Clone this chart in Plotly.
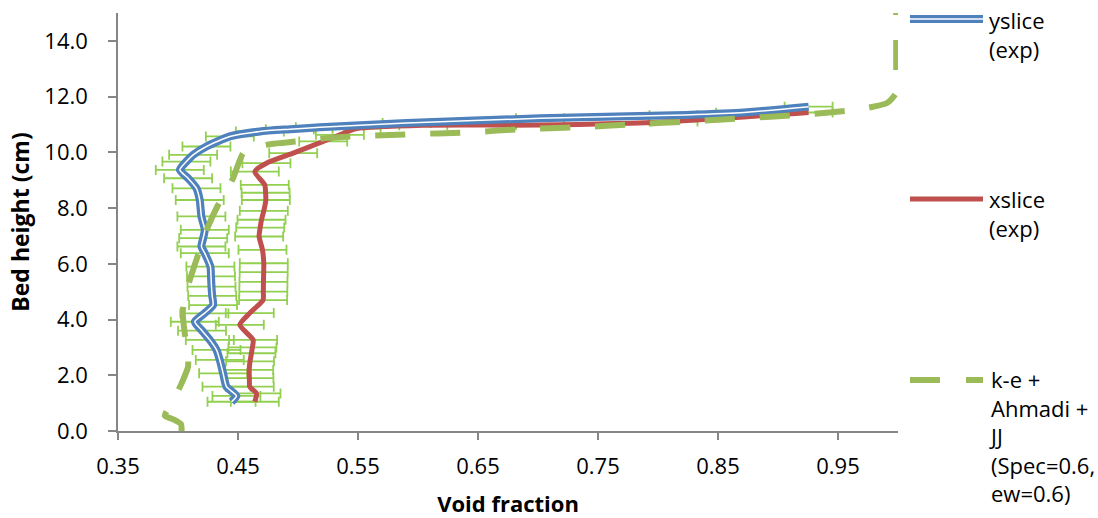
import plotly.graph_objects as go

# ---------------- data ----------------
# yslice (exp): void fraction vs bed height
yslice_y = [1.05, 1.26, 1.59, 2.07, 2.55, 2.91, 3.27, 3.60, 3.92, 4.22, 4.52, 4.85,
            5.18, 5.55, 5.90, 6.38, 6.62, 6.92, 7.22, 7.70, 8.29, 8.71, 9.07, 9.37,
            9.67, 9.91, 10.21, 10.57, 10.75, 10.83, 10.90, 11.05, 11.22, 11.33, 11.42, 11.64]
yslice_x = [0.4446, 0.4487, 0.4404, 0.4376, 0.4348, 0.4321, 0.4265, 0.4200, 0.4140, 0.4220, 0.4292, 0.4285,
            0.4279, 0.4275, 0.4270, 0.4223, 0.4195, 0.4210, 0.4223, 0.4195, 0.4181, 0.4154, 0.4084, 0.4015,
            0.4070, 0.4126, 0.4237, 0.4432, 0.4682, 0.4932, 0.5182, 0.5905, 0.7017, 0.8129, 0.8685, 0.9255]

# xslice (exp)
xslice_y = [1.05, 1.35, 1.59, 1.90, 2.19, 2.50, 2.79, 3.00, 3.27, 3.81, 4.23, 4.70, 5.00, 5.35,
            5.70, 6.02, 6.50, 6.98, 7.30, 7.58, 7.90, 8.29, 8.55, 8.83, 9.31, 9.61, 9.97,
            10.39, 10.63, 10.85, 10.97, 10.98, 11.11, 11.43]
xslice_x = [0.4640, 0.4654, 0.4598, 0.4595, 0.4593, 0.4600, 0.4612, 0.4620, 0.4626, 0.4515, 0.4598, 0.4709, 0.4711, 0.4712,
            0.4714, 0.4715, 0.4704, 0.4676, 0.4685, 0.4696, 0.4715, 0.4732, 0.4730, 0.4723, 0.4640, 0.4737, 0.4960,
            0.5210, 0.5349, 0.5488, 0.6044, 0.7017, 0.8129, 0.9255]

# simulation: k-e + Ahmadi + JJ (Spec=0.6, ew=0.6)
sim_y = [0.00, 0.25, 0.42, 0.55, 1.10, 1.71, 2.31, 2.90, 3.51, 4.28, 4.90, 5.42, 6.32, 6.85,
         7.34, 8.11, 8.60, 9.07, 9.97, 10.20, 10.30, 10.39, 10.51, 10.57, 10.65, 10.71, 10.83,
         10.90, 11.01, 11.11, 11.23, 11.35, 11.53, 11.77, 12.13, 12.48, 15.00]
sim_x = [0.4030, 0.4025, 0.3960, 0.3890, 0.3960, 0.4030, 0.4084, 0.4080, 0.4056, 0.4040, 0.4060, 0.4098, 0.4167, 0.4210,
         0.4251, 0.4334, 0.4400, 0.4459, 0.4543, 0.4650, 0.4779, 0.4988, 0.5238, 0.5460, 0.5933, 0.6392, 0.6864,
         0.7337, 0.7809, 0.8268, 0.8741, 0.9200, 0.9659, 0.9909, 0.9985, 0.9985, 0.9985]

error_half_width = 0.02

x_ticks = [0.35, 0.45, 0.55, 0.65, 0.75, 0.85, 0.95]
y_ticks = [0, 2, 4, 6, 8, 10, 12, 14]

legend_names = ["yslice<br>(exp)", "xslice<br>(exp)",
                "k-e +<br>Ahmadi +<br>JJ<br>(Spec=0.6,<br>ew=0.6)"]

# ---------------- styles ----------------
BLUE = "#4F81BD"
RED = "#C0504D"
OLIVE = "#9BBB59"
ERR = "#92D050"
AXIS = "#868686"
FONT = "Open Sans"

fig = go.Figure()

err = dict(type="constant", value=error_half_width, color=ERR, thickness=1.8, width=5)
for xs, ys in [(yslice_x, yslice_y), (xslice_x, xslice_y)]:
    fig.add_trace(go.Scatter(x=xs, y=ys, mode="markers",
                             marker=dict(size=2, opacity=0),
                             error_x=err, showlegend=False, hoverinfo="skip"))

fig.add_trace(go.Scatter(x=xslice_x, y=xslice_y, mode="lines", name="xslice (exp)",
                         line=dict(color=RED, width=5, shape="spline", smoothing=0.6),
                         showlegend=False))
fig.add_trace(go.Scatter(x=yslice_x, y=yslice_y, mode="lines", name="yslice (exp)",
                         line=dict(color=BLUE, width=8, shape="spline", smoothing=0.6),
                         showlegend=False))
fig.add_trace(go.Scatter(x=yslice_x, y=yslice_y, mode="lines", hoverinfo="skip",
                         line=dict(color="white", width=1.5, shape="spline", smoothing=0.6),
                         showlegend=False))
fig.add_trace(go.Scatter(x=sim_x, y=sim_y, mode="lines",
                         name="k-e + Ahmadi + JJ (Spec=0.6, ew=0.6)",
                         line=dict(color=OLIVE, width=6, dash="30px,25px",
                                   shape="spline", smoothing=0.5),
                         showlegend=False))

# ---------------- manual legend ----------------
L, R, T, B = 118, 200, 13, 87
W, H = 1098, 518
pw, ph = W - L - R, H - T - B

def px(xp):
    return (xp - L) / pw

def py(yp):
    return (H - B - yp) / ph

sym_x0, sym_x1 = px(910), px(983)
legend_rows = [(19, BLUE, 8, None), (199, RED, 5, None), (380, OLIVE, 6, "30px,26px")]
shapes = []
for yy, col, wd, dash in legend_rows:
    ln = dict(color=col, width=wd)
    if dash:
        ln["dash"] = dash
    shapes.append(dict(type="line", xref="paper", yref="paper",
                       x0=sym_x0, x1=sym_x1, y0=py(yy), y1=py(yy), line=ln))
shapes.append(dict(type="line", xref="paper", yref="paper",
                   x0=sym_x0, x1=sym_x1, y0=py(19), y1=py(19),
                   line=dict(color="white", width=1.5)))

text_centers = [34.5, 213.5, 436.5]
annotations = []
for name, yc in zip(legend_names, text_centers):
    annotations.append(dict(text=name, xref="paper", yref="paper", x=px(987), y=py(yc),
                            xanchor="left", yanchor="middle", align="left", showarrow=False,
                            font=dict(family=FONT, size=22, color="black")))

fig.update_layout(
    width=W, height=H,
    margin=dict(l=L, r=R, t=T, b=B, pad=0),
    paper_bgcolor="white", plot_bgcolor="white",
    showlegend=False,
    shapes=shapes, annotations=annotations,
    font=dict(family=FONT, color="black"),
    xaxis=dict(range=[0.35, 1.0], tickvals=x_ticks, tickformat=".2f",
               showline=True, linecolor=AXIS, linewidth=1.5,
               ticks="outside", ticklen=7, tickcolor=AXIS, tickwidth=1.5,
               showgrid=False, zeroline=False, ticklabelstandoff=8, automargin=False,
               tickfont=dict(family=FONT, size=22, color="black"),
               title=dict(text="Void fraction", standoff=22,
                          font=dict(family=FONT, size=22, color="black", weight="bold"))),
    yaxis=dict(range=[0, 15], tickvals=y_ticks, tickformat=".1f",
               showline=True, linecolor=AXIS, linewidth=1.5,
               ticks="outside", ticklen=8, tickcolor=AXIS, tickwidth=1.5,
               showgrid=False, zeroline=False, ticklabelstandoff=16, automargin=False,
               tickfont=dict(family=FONT, size=22, color="black"),
               title=dict(text="Bed height (cm)", standoff=8,
                          font=dict(family=FONT, size=23, color="black", weight="bold"))),
)

fig.write_html("out.html")
